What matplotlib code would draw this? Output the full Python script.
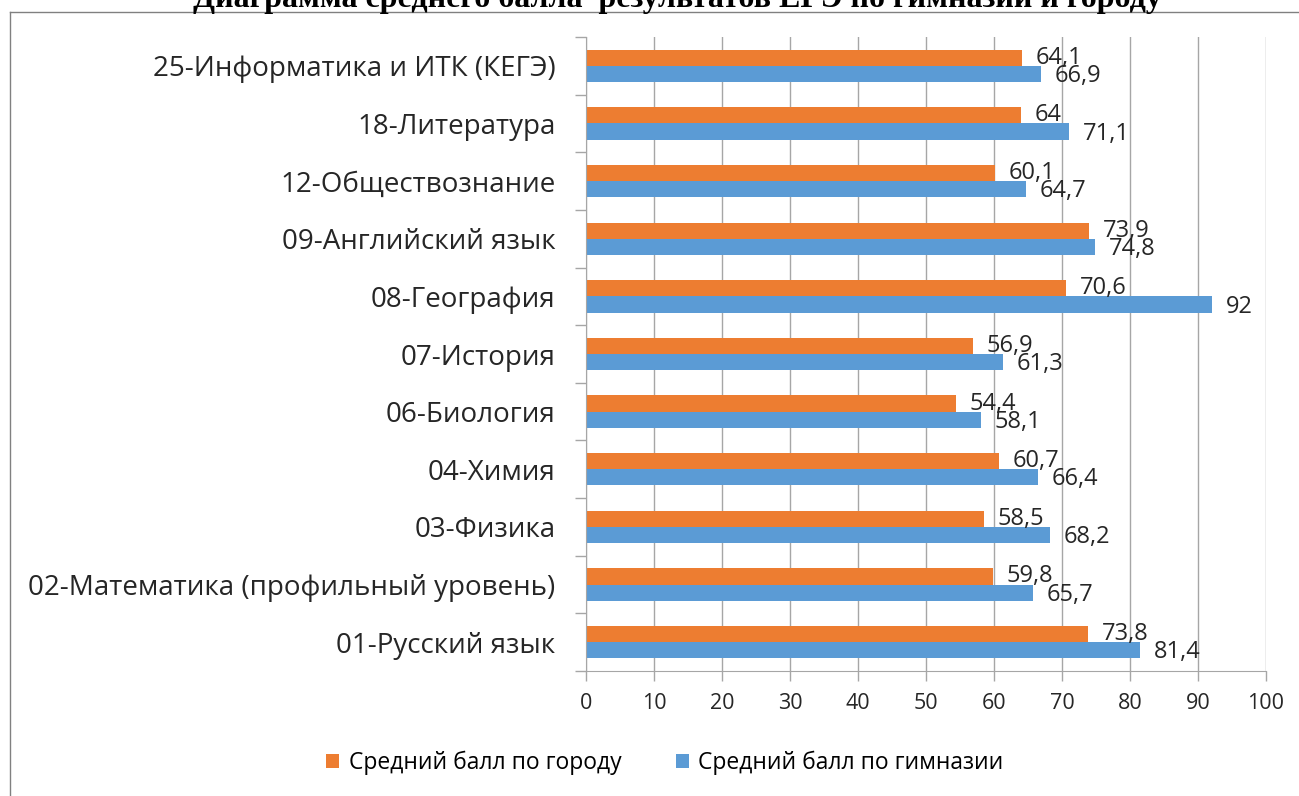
import numpy as np
import matplotlib.pyplot as plt
from matplotlib.lines import Line2D

# данные
subjects = ['01-Русский язык', '02-Математика (профильный уровень)', '03-Физика',
            '04-Химия', '06-Биология', '07-История', '08-География',
            '09-Английский язык', '12-Обществознание', '18-Литература',
            '25-Информатика и ИТК (КЕГЭ)']
city = [73.8, 59.8, 58.5, 60.7, 54.4, 56.9, 70.6, 73.9, 60.1, 64.0, 64.1]
gym = [81.4, 65.7, 68.2, 66.4, 58.1, 61.3, 92.0, 74.8, 64.7, 71.1, 66.9]
city_lbl = ['73,8', '59,8', '58,5', '60,7', '54,4', '56,9', '70,6', '73,9', '60,1', '64', '64,1']
gym_lbl = ['81,4', '65,7', '68,2', '66,4', '58,1', '61,3', '92', '74,8', '64,7', '71,1', '66,9']

plt.rcParams['font.family'] = ['Open Sans', 'DejaVu Sans']

orange = '#ED7D31'
blue = '#5B9BD5'
gridc = '#A6A6A6'
txt = '#262626'

fig = plt.figure(figsize=(12.99, 7.96), dpi=100)
ax = fig.add_axes([586 / 1299, 1 - 671 / 796, 680 / 1299, 634 / 796])

y = np.arange(len(subjects))
h = 0.28
ax.barh(y + h / 2, city, height=h, color=orange, label='Средний балл по городу', zorder=2)
ax.barh(y - h / 2, gym, height=h, color=blue, label='Средний балл по гимназии', zorder=2)

# подписи значений
for i in range(len(subjects)):
    ax.annotate(city_lbl[i], (city[i], y[i] + h / 2), xytext=(10, 0), textcoords='offset points',
                va='center', ha='left', fontsize=17, color=txt, zorder=3)
    ax.annotate(gym_lbl[i], (gym[i], y[i] - h / 2), xytext=(10, -1.5), textcoords='offset points',
                va='center', ha='left', fontsize=17, color=txt, zorder=3)

ax.set_xlim(0, 100)
ax.set_ylim(-0.5, len(subjects) - 0.5)
ax.set_xticks(np.arange(0, 101, 10))
ax.set_yticks(y)
ax.set_yticklabels(subjects, fontsize=20, color=txt)
ax.set_yticks(np.arange(-0.5, len(subjects), 1), minor=True)
ax.tick_params(axis='y', which='major', length=0, pad=22)
ax.tick_params(axis='y', which='minor', length=8, width=1, color=gridc)
ax.tick_params(axis='x', length=7, width=1, color=gridc, pad=9, labelsize=15.5, labelcolor=txt)
ax.grid(axis='x', color=gridc, linewidth=1, zorder=0)
for s in ['top', 'right']:
    ax.spines[s].set_visible(False)
ax.spines['left'].set_color(gridc)
ax.spines['bottom'].set_color(gridc)

fig.legend(loc='center', bbox_to_anchor=(665 / 1299, 1 - 763 / 796), ncol=2, frameon=False,
           fontsize=16.5, handlelength=0.57, handleheight=0.57, handletextpad=0.4, columnspacing=2.4)

# рамка
fig.add_artist(Line2D([10 / 1299, 10 / 1299], [0, 1 - 12 / 796], transform=fig.transFigure, color='#808080', lw=1))
fig.add_artist(Line2D([10 / 1299, 1], [1 - 12 / 796, 1 - 12 / 796], transform=fig.transFigure, color='#808080', lw=1))

fig.text(677 / 1299, 1 - 7 / 796, 'Диаграмма среднего балла  результатов ЕГЭ по гимназии и городу',
         ha='center', va='baseline', fontsize=23, fontweight='bold', family='Liberation Serif')

fig.savefig('out.png', dpi=100)
